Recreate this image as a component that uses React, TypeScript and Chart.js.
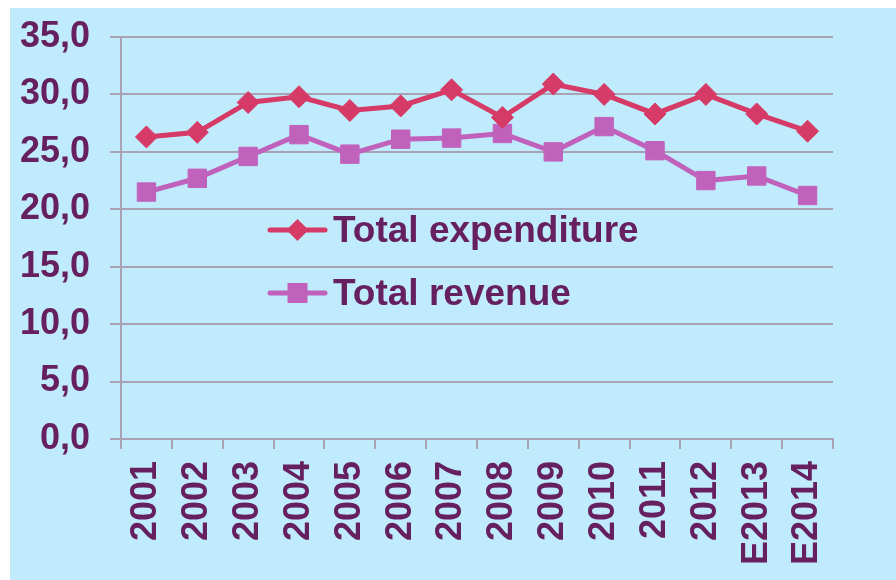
import React, { useEffect, useRef } from "react";
import { Chart, registerables } from "chart.js";

Chart.register(...registerables);

const years = ["2001", "2002", "2003", "2004", "2005", "2006", "2007", "2008", "2009", "2010", "2011", "2012", "E2013", "E2014"];
const expenditure = [26.3, 26.7, 29.3, 29.8, 28.6, 29.0, 30.4, 28.0, 30.9, 30.0, 28.3, 30.0, 28.3, 26.8];
const revenue = [21.5, 22.7, 24.6, 26.5, 24.8, 26.1, 26.2, 26.6, 25.0, 27.2, 25.1, 22.5, 22.9, 21.2];
const seriesNames = ["Total expenditure", "Total revenue"];

const EXP_COLOR = "#D63A66";
const REV_COLOR = "#C062BC";
const TEXT_COLOR = "#66205F";
const GRID_COLOR = "#A9A2B5";
const BG = "#C0EBFC";
const FONT = "'Liberation Sans', Arial, sans-serif";

const legendPlugin = {
  id: "innerLegend",
  afterDatasetsDraw(chart: any) {
    const { ctx, chartArea } = chart;
    const entries = [
      { y: 193, color: EXP_COLOR, style: "diamond", label: seriesNames[0] },
      { y: 256, color: REV_COLOR, style: "square", label: seriesNames[1] },
    ];
    ctx.save();
    entries.forEach((e) => {
      const y = chartArea.top + e.y;
      const x0 = chartArea.left + 149;
      const x1 = chartArea.left + 204;
      const cx = (x0 + x1) / 2;
      ctx.strokeStyle = e.color;
      ctx.lineWidth = 5;
      ctx.lineCap = "round";
      ctx.beginPath();
      ctx.moveTo(x0, y);
      ctx.lineTo(x1, y);
      ctx.stroke();
      ctx.fillStyle = e.color;
      ctx.beginPath();
      if (e.style === "diamond") {
        const r = 11;
        ctx.moveTo(cx, y - r);
        ctx.lineTo(cx + r, y);
        ctx.lineTo(cx, y + r);
        ctx.lineTo(cx - r, y);
        ctx.closePath();
      } else {
        const s = 10;
        ctx.rect(cx - s, y - s, 2 * s, 2 * s);
      }
      ctx.fill();
      ctx.fillStyle = TEXT_COLOR;
      ctx.font = `bold 37px ${FONT}`;
      ctx.textBaseline = "middle";
      ctx.textAlign = "left";
      ctx.fillText(e.label, chartArea.left + 212, y + 2);
    });
    ctx.restore();
  },
};

export default function App() {
  const ref = useRef<HTMLCanvasElement>(null);
  useEffect(() => {
    if (!ref.current) return;
    const chart = new Chart(ref.current, {
      type: "line",
      data: {
        labels: years,
        datasets: [
          {
            label: seriesNames[0],
            data: expenditure,
            borderColor: EXP_COLOR,
            backgroundColor: EXP_COLOR,
            borderWidth: 5,
            pointStyle: "rectRot",
            pointRadius: 11,
            pointBorderWidth: 1,
            tension: 0,
          },
          {
            label: seriesNames[1],
            data: revenue,
            borderColor: REV_COLOR,
            backgroundColor: REV_COLOR,
            borderWidth: 5,
            pointStyle: "rect",
            pointRadius: 13,
            pointBorderWidth: 1,
            tension: 0,
          },
        ],
      },
      options: {
        animation: false,
        responsive: false,
        layout: { padding: { top: 29, right: 63, left: 0, bottom: 0 } },
        plugins: { legend: { display: false }, tooltip: { enabled: false } },
        scales: {
          x: {
            offset: true,
            grid: { offset: true, drawOnChartArea: false, drawTicks: true, tickLength: 10, color: GRID_COLOR, lineWidth: 2 },
            border: { display: true, color: GRID_COLOR, width: 2 },
            ticks: {
              color: TEXT_COLOR,
              font: { family: FONT, size: 36, weight: "bold" },
              minRotation: 90,
              maxRotation: 90,
              padding: 12,
              autoSkip: false,
            },
            afterFit: (s: any) => { s.height = 141; s.paddingLeft = 0; s.paddingRight = 0; },
          },
          y: {
            min: 0,
            max: 35,
            grid: { color: GRID_COLOR, lineWidth: 2, tickLength: 11 },
            border: { display: true, color: GRID_COLOR, width: 2 },
            ticks: {
              stepSize: 5,
              color: TEXT_COLOR,
              font: { family: FONT, size: 36, weight: "bold" },
              padding: 20,
              callback: (v: any) => Number(v).toFixed(1).replace(".", ","),
            },
            afterFit: (s: any) => { s.width = 111; s.paddingTop = 0; s.paddingBottom = 0; },
          },
        },
      },
      plugins: [legendPlugin],
    });
    return () => chart.destroy();
  }, []);
  return (
    <div style={{ position: "fixed", left: 10, top: 8, width: 886, height: 572, background: BG }}>
      <canvas ref={ref} width={886} height={572} style={{ display: "block" }} />
    </div>
  );
}
